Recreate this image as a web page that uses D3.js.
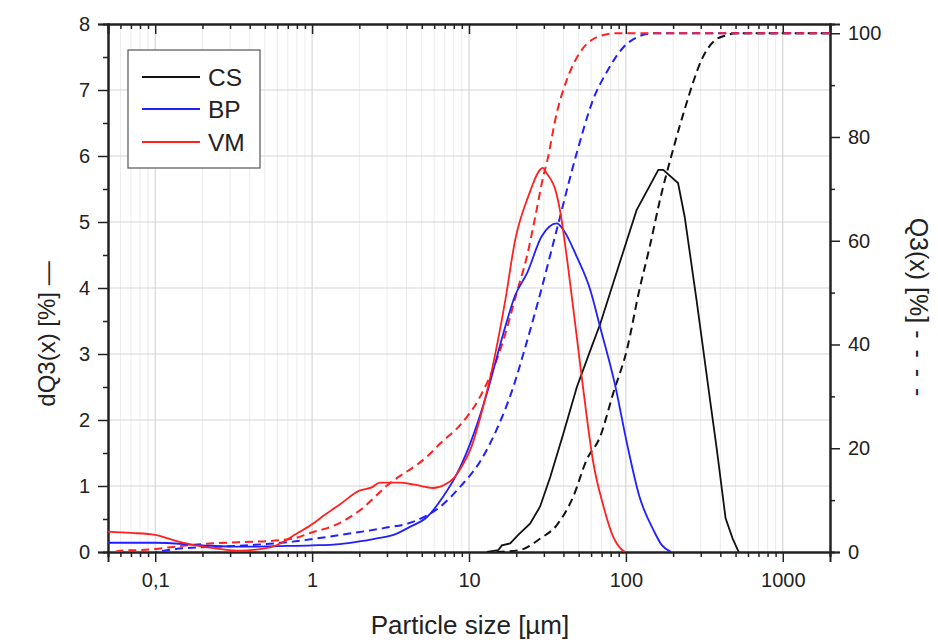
<!DOCTYPE html>
<html>
<head>
<meta charset="utf-8">
<script src="https://cdn.jsdelivr.net/npm/d3@7"></script>
<style>
  body { margin: 0; background: #fff; }
  svg { font-family: "Liberation Sans", Arial, sans-serif; }
  .tick text { font-size: 20px; fill: #222; }
  .domain { stroke: #222; stroke-width: 2; }
  .tick line { stroke: #222; stroke-width: 1.5; }
</style>
</head>
<body>
<svg width="938" height="642"></svg>
<script>
// dati: [dimensione µm, valore]
var csDensity = [[13,0],[15.4,0.03],[16.2,0.1],[18.3,0.13],[20.6,0.26],[24.5,0.43],[28.4,0.69],[33,1.14],[40,1.8],[48.7,2.5],[60.3,3.1],[68.5,3.45],[92.4,4.42],[117,5.18],[161,5.79],[173,5.79],[215,5.59],[237,5.08],[282,3.82],[344,2.3],[380,1.55],[432,0.51],[480,0.2],[524,0]];
var bpDensity = [[0.05,0.14],[0.1,0.14],[0.2,0.1],[0.35,0.08],[0.6,0.09],[1,0.1],[1.5,0.12],[2,0.16],[2.5,0.2],[3.3,0.26],[4.2,0.38],[5.4,0.53],[6.85,0.84],[8.4,1.19],[10.2,1.65],[13,2.4],[16.5,3.3],[19.7,3.89],[23.4,4.22],[29,4.78],[36.3,4.98],[40,4.88],[48.7,4.47],[59.3,3.97],[68.5,3.41],[84.8,2.56],[101.5,1.65],[122,0.84],[150,0.33],[170,0.1],[195,0]];
var vmDensity = [[0.05,0.31],[0.07,0.29],[0.1,0.26],[0.13,0.18],[0.18,0.1],[0.25,0.05],[0.35,0.02],[0.45,0.04],[0.56,0.08],[0.8,0.28],[1,0.42],[1.2,0.56],[1.5,0.72],[2,0.93],[2.4,0.98],[2.7,1.05],[3.6,1.05],[4.5,1.02],[5.9,0.97],[7,1.02],[8,1.12],[9,1.3],[10.2,1.55],[12.3,2.2],[14,2.76],[17,3.8],[19.7,4.73],[23.8,5.38],[29.6,5.82],[31,5.75],[36,5.44],[38,5.18],[42.8,4.32],[49.8,3.06],[56.3,2.05],[61.6,1.39],[72,0.69],[83,0.23],[92,0.06],[99,0]];

var csCumul = [[15,0],[16.2,0.06],[21.2,0.4],[28.5,2.6],[36.3,5.2],[46.2,10.7],[56.3,17.8],[68.5,22.2],[83,30.6],[101.5,39],[122,50.6],[142,58.9],[165,67.9],[200,77.6],[244,86.6],[268,90.5],[305,95],[365,98.5],[437,99.6],[500,100],[2000,100]];
var bpCumul = [[0.1,0],[0.149,0.7],[0.34,1.2],[0.75,2],[1.18,2.8],[1.51,3.3],[2.85,4.6],[4.43,5.85],[6.57,8.75],[8.8,12.6],[11.8,17.5],[15,23.6],[19.2,31.9],[22.3,38.4],[28.5,49.9],[36.3,62.2],[48.7,77],[62,87.3],[75.4,92.5],[96.5,97.3],[117,99.2],[150,100],[2000,100]];
var vmCumul = [[0.055,0],[0.06,0.25],[0.082,0.4],[0.1,0.6],[0.15,1.2],[0.19,1.5],[0.34,1.9],[0.58,2.2],[0.76,2.6],[1.05,4],[1.25,4.6],[2.03,8.1],[3,12.8],[5.4,18.4],[6.6,21],[8.8,24.5],[11.8,30],[16.6,40.9],[20.1,49.9],[23.4,57],[27,66],[29.8,72.5],[31.3,75],[36.3,84.7],[42,91],[51,96.3],[65,99.2],[87,100],[2000,100]];

var serie = ["CS", "BP", "VM"];
var colori = ["#111111", "#1f1fff", "#ff2020"];

var xMajor = [0.1, 1, 10, 100, 1000];
var xLabels = ["0,1", "1", "10", "100", "1000"];
var yLeftTicks = [0, 1, 2, 3, 4, 5, 6, 7, 8];
var yRightTicks = [0, 20, 40, 60, 80, 100];

var mLeft = 108, mRight = 830, mTop = 24, mBottom = 552;

var svg = d3.select("svg");

var x = d3.scaleLog().domain([0.05, 2000]).range([mLeft, mRight]);
var yL = d3.scaleLinear().domain([0, 8]).range([mBottom, mTop]);
var yR = d3.scaleLinear().domain([0, 8 * 100 / 7.86]).range([mBottom, mTop]);

// tick minori per decade
var xMinor = [];
[0.01, 0.1, 1, 10, 100, 1000].forEach(function(d){
  for (var k = 2; k <= 9; k++) {
    var v = d * k;
    if (v >= 0.05 && v <= 2000) xMinor.push(v);
  }
});
var yLeftMinor = d3.range(0.5, 8, 1);
var yRightMinor = [10, 30, 50, 70, 90];

// griglia
var grid = svg.append("g");
grid.selectAll(".gmin").data(xMinor).enter().append("line")
  .attr("x1", d => x(d)).attr("x2", d => x(d))
  .attr("y1", mTop).attr("y2", mBottom)
  .attr("stroke", "#ececec").attr("stroke-width", 1);
grid.selectAll(".gmaj").data(xMajor).enter().append("line")
  .attr("x1", d => x(d)).attr("x2", d => x(d))
  .attr("y1", mTop).attr("y2", mBottom)
  .attr("stroke", "#d6d6d6").attr("stroke-width", 1.2);
grid.selectAll(".gy").data(yLeftTicks.slice(1, 8)).enter().append("line")
  .attr("x1", mLeft).attr("x2", mRight)
  .attr("y1", d => yL(d)).attr("y2", d => yL(d))
  .attr("stroke", "#d6d6d6").attr("stroke-width", 1.2);

// assi
svg.append("g").attr("transform", "translate(0," + mBottom + ")")
  .call(d3.axisBottom(x).tickValues(xMinor).tickSize(5).tickFormat(""));
svg.append("g").attr("transform", "translate(0," + mBottom + ")")
  .call(d3.axisBottom(x).tickValues(xMajor).tickSize(10).tickPadding(11)
        .tickFormat(function(d, i){ return xLabels[i]; }));
svg.append("g").attr("transform", "translate(0," + mTop + ")")
  .call(d3.axisTop(x).tickValues(xMinor).tickSize(-5).tickFormat(""));
svg.append("g").attr("transform", "translate(0," + mTop + ")")
  .call(d3.axisTop(x).tickValues(xMajor).tickSize(-10).tickFormat(""));

svg.append("g").attr("transform", "translate(" + mLeft + ",0)")
  .call(d3.axisLeft(yL).tickValues(yLeftMinor).tickSize(5).tickFormat(""));
svg.append("g").attr("transform", "translate(" + mLeft + ",0)")
  .call(d3.axisLeft(yL).tickValues(yLeftTicks).tickSize(10).tickPadding(8).tickFormat(d3.format("d")));

svg.append("g").attr("transform", "translate(" + mRight + ",0)")
  .call(d3.axisRight(yR).tickValues(yRightMinor).tickSize(5).tickFormat(""));
svg.append("g").attr("transform", "translate(" + mRight + ",0)")
  .call(d3.axisRight(yR).tickValues(yRightTicks).tickSize(10).tickPadding(8).tickFormat(d3.format("d")));

// curve
svg.append("clipPath").attr("id", "area").append("rect")
  .attr("x", mLeft).attr("y", mTop).attr("width", mRight - mLeft).attr("height", mBottom - mTop);
var plot = svg.append("g").attr("clip-path", "url(#area)");

var lineL = d3.line().x(d => x(d[0])).y(d => yL(d[1])).curve(d3.curveMonotoneX);
var lineLin = d3.line().x(d => x(d[0])).y(d => yL(d[1]));
var lineR = d3.line().x(d => x(d[0])).y(d => yR(d[1])).curve(d3.curveMonotoneX);

var cumul = [csCumul, bpCumul, vmCumul];
var density = [csDensity, bpDensity, vmDensity];

for (var i = 0; i < 3; i++) {
  plot.append("path")
    .attr("d", lineR(cumul[i]))
    .attr("fill", "none")
    .attr("stroke", colori[i])
    .attr("stroke-width", 2)
    .attr("stroke-dasharray", "8,5")
    .attr("stroke-dashoffset", i * 6);
}
for (var i = 0; i < 3; i++) {
  plot.append("path")
    .attr("d", i == 0 ? lineLin(density[i]) : lineL(density[i]))
    .attr("fill", "none")
    .attr("stroke", colori[i])
    .attr("stroke-width", 1.8);
}

// legenda
var leg = svg.append("g");
leg.append("rect").attr("x", 128).attr("y", 50).attr("width", 132).attr("height", 118)
  .attr("fill", "#fff").attr("stroke", "#555").attr("stroke-width", 1.2);
var legY = [77, 109, 142];
serie.forEach(function(s, i){
  leg.append("line").attr("x1", 142).attr("x2", 200)
    .attr("y1", legY[i]).attr("y2", legY[i])
    .attr("stroke", colori[i]).attr("stroke-width", 1.8);
  leg.append("text").attr("x", 208).attr("y", legY[i] + 8.5)
    .attr("font-size", 24.5).attr("fill", "#222").text(s);
});

// titoli assi
svg.append("text")
  .attr("x", 470).attr("y", 634)
  .attr("text-anchor", "middle").attr("font-size", 26).attr("fill", "#222")
  .text("Particle size [\u00b5m]");

svg.append("text")
  .attr("transform", "translate(55,334) rotate(-90)")
  .attr("text-anchor", "middle").attr("font-size", 24).attr("fill", "#222")
  .text("dQ3(x) [%] \u2014");

var tR = svg.append("text")
  .attr("transform", "translate(910,308) rotate(90)")
  .attr("text-anchor", "middle").attr("font-size", 25).attr("fill", "#222")
  .style("white-space", "pre");
tR.append("tspan").text("Q3(x) [%] ");
tR.append("tspan").attr("letter-spacing", 2).text("- - - -");
</script>
</body>
</html>
